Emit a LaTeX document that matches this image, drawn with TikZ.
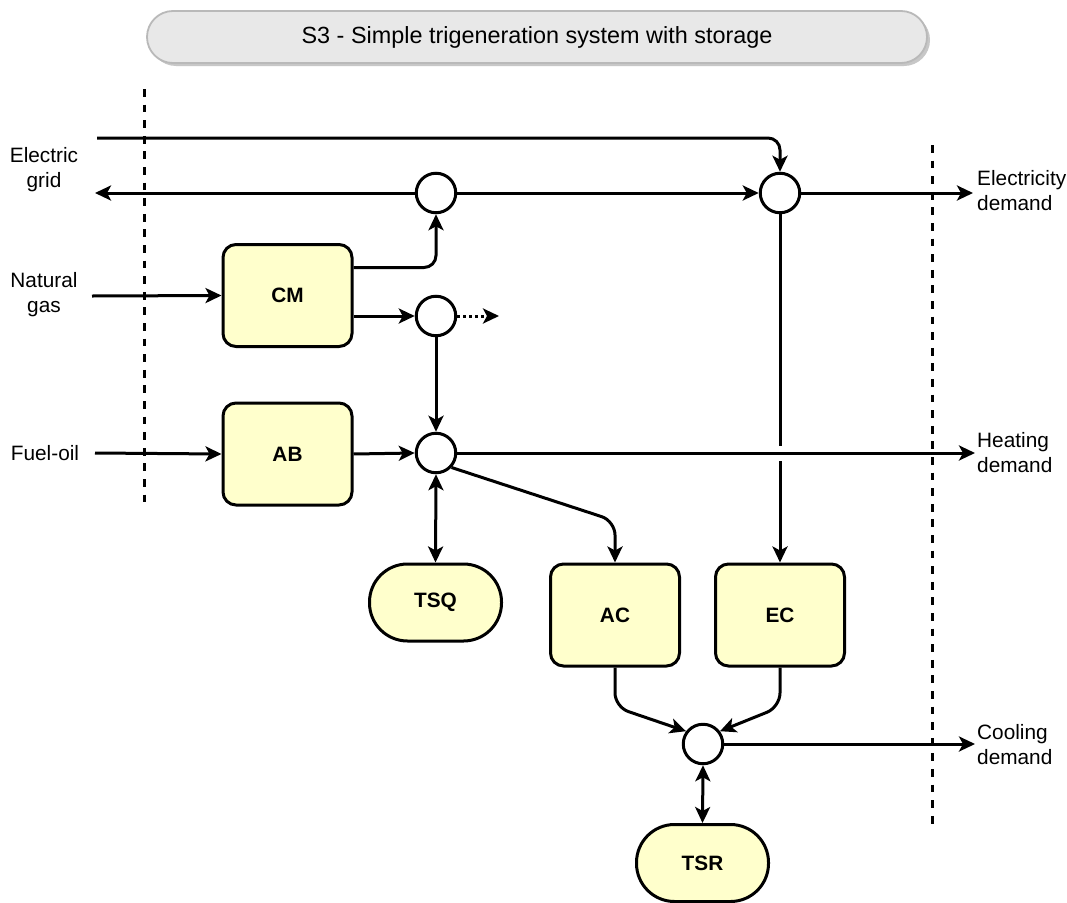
\documentclass[tikz,border=0pt]{standalone}
\usepackage{fontspec}
\setmainfont{Liberation Sans}
\usetikzlibrary{arrows.meta,shadows}

\definecolor{boxfill}{RGB}{255,255,204}
\definecolor{titlefill}{RGB}{232,232,232}
\definecolor{titleline}{RGB}{185,185,185}

\begin{document}
\begin{tikzpicture}[x=1pt,y=-1pt,
  every node/.style={font=\fontsize{20.8}{25}\selectfont},
  flow/.style={line width=3pt},
  arr/.style={flow,-{Stealth[length=16pt,width=15pt,inset=4pt]}},
  darr/.style={flow,{Stealth[length=16pt,width=15pt,inset=4pt]}-{Stealth[length=16pt,width=15pt,inset=4pt]}},
  unit/.style={draw,line width=3pt,fill=boxfill,rounded corners=13pt,
    minimum width=129pt,minimum height=102pt,inner sep=0pt,
    font=\fontsize{20.8}{25}\selectfont\bfseries},
  store/.style={draw,line width=3pt,fill=boxfill,rounded corners=38pt,
    minimum width=132pt,minimum height=77pt,inner sep=0pt,
    font=\fontsize{20.8}{25}\selectfont\bfseries},
  junction/.style={draw,circle,line width=3pt,fill=white,minimum size=39.5pt,inner sep=0pt},
  lbl/.style={align=center,inner sep=0pt},
  rlbl/.style={align=left,anchor=west,inner sep=0pt},
  boundary/.style={line width=3pt,dash pattern=on 7.8pt off 7.8pt},
  banner/.style={draw=titleline,fill=titlefill,line width=1.8pt,rounded corners=26pt,
    minimum width=780pt,minimum height=52pt,
    drop shadow={shadow xshift=3pt,shadow yshift=-3pt,fill=black!22,opacity=1},
    font=\fontsize{23.4}{28}\selectfont}
]
% canvas
\fill[white] (0,0) rectangle (1067,902);
\useasboundingbox (0,0) rectangle (1067,902);

% heading
\node[banner] (title) at (537,37) {S3 - Simple trigeneration system with storage};

% system boundaries
\coordinate (bLtop) at (144,89);
\coordinate (bLbot) at (144,505);
\coordinate (bRtop) at (932,145);
\coordinate (bRbot) at (932,826);
\draw[boundary] (bLtop) -- (bLbot);
\draw[boundary] (bRtop) -- (bRbot);

% units
\node[unit] (CM) at (287.5,295.5) {CM};
\node[unit] (AB) at (287.5,454) {AB};
\node[unit] (AC) at (615,615) {AC};
\node[unit] (EC) at (780,615) {EC};
\node[store] (TSQ) at (435.5,602.5) {TSQ};
\node[store] (TSR) at (702.5,863) {TSR};

% junctions
\node[junction] (E1) at (436,193) {};
\node[junction] (E2) at (780,193) {};
\node[junction] (Q1) at (436,316) {};
\node[junction] (Q2) at (436,453) {};
\node[junction] (R) at (703,744) {};

% external labels
\node[lbl] (grid) at (44,170) {Electric\\grid};
\node[lbl] (gas) at (44,295) {Natural\\gas};
\node[lbl] (oil) at (45,453) {Fuel-oil};
\node[rlbl] (eldem) at (977,191) {Electricity\\demand};
\node[rlbl] (heatdem) at (977,453) {Heating\\demand};
\node[rlbl] (cooldem) at (977,745) {Cooling\\demand};

% free ends of the flows
\coordinate (gridIn) at (97,138);
\coordinate (gridOut) at (95,193);
\coordinate (elecOut) at (973,193);
\coordinate (gasIn) at (92,296);
\coordinate (oilIn) at (95,453);
\coordinate (chpOut) at (499,316);
\coordinate (heatOut) at (975,453);
\coordinate (coolOut) at (975,744);
\coordinate (acBend) at (615,521);
\coordinate (jumpA) at (780,446);
\coordinate (jumpB) at (780,461);
\coordinate (acDown) at (615,707);
\coordinate (ecDown) at (780,707);

% electricity
\draw[arr,rounded corners=12pt] (gridIn) -| (E2.north);
\draw[arr] (E1.west) -- (gridOut);
\draw[arr] (E1.east) -- (E2.west);
\draw[arr] (E2.east) -- (elecOut);
\draw[arr,rounded corners=12pt] ([yshift=28pt]CM.east) -| (E1.south);
\draw[flow] (E2.south) -- (jumpA);
\draw[arr] (jumpB) -- (EC.north);

% fuels
\draw[arr] (gasIn) -- (CM.west);
\draw[arr] (oilIn) -- (AB.west);

% heat
\draw[arr] (CM.east |- Q1) -- (Q1.west);
\draw[arr,dash pattern=on 3pt off 3pt] (Q1.east) -- (chpOut);
\draw[arr] (Q1.south) -- (Q2.north);
\draw[arr] (AB.east) -- (Q2.west);
\draw[arr] (Q2.east) -- (heatOut);
\draw[darr] (Q2.south) -- (TSQ.north);
\draw[arr,rounded corners=14pt] (Q2.-43) -- (acBend) -- (AC.north);

% cooling
\draw[arr,rounded corners=14pt] (AC.south) -- (acDown) -- (R.143);
\draw[arr,rounded corners=14pt] (EC.south) -- (ecDown) -- (R.37);
\draw[arr] (R.east) -- (coolOut);
\draw[darr] (R.south) -- (TSR.north);
\end{tikzpicture}
\end{document}
